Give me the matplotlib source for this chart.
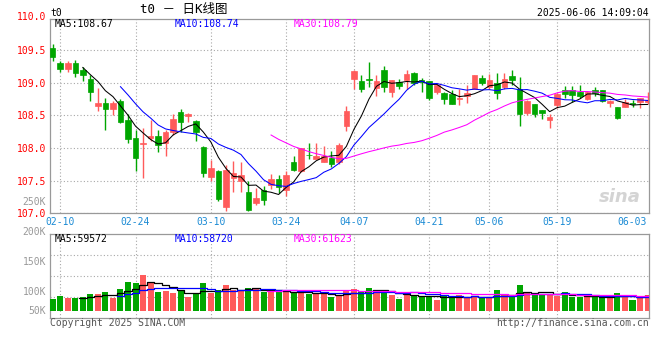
import numpy as np
import pandas as pd
import matplotlib
matplotlib.use("Agg")
import matplotlib.pyplot as plt

# ---------------- data ----------------
opens = [109.53, 109.30, 109.21, 109.30, 109.19, 109.06, 108.65, 108.69, 108.60, 108.72,
         108.43, 108.15, 108.06, 108.16, 108.18, 108.08, 108.24, 108.55, 108.49, 108.42,
         108.02, 107.56, 107.65, 107.10, 107.54, 107.50, 107.33, 107.16, 107.35, 107.43,
         107.53, 107.35, 107.78, 107.64, 107.90, 107.83, 107.79, 107.84, 107.78, 108.34,
         109.06, 109.03, 109.06, 108.92, 109.19, 108.85, 109.01, 109.04, 109.14, 109.04,
         109.03, 108.85, 108.84, 108.82, 108.75, 108.80, 108.91, 109.07, 108.94, 108.99,
         108.94, 109.10, 108.91, 108.53, 108.67, 108.58, 108.43, 108.66, 108.89, 108.89,
         108.85, 108.75, 108.89, 108.89, 108.69, 108.62, 108.63, 108.69, 108.71, 108.71]
highs = [109.59, 109.33, 109.33, 109.35, 109.24, 109.12, 108.92, 108.76, 108.72, 108.75,
         108.52, 108.28, 108.30, 108.43, 108.28, 108.28, 108.52, 108.60, 108.54, 108.43,
         108.03, 107.82, 107.66, 107.74, 107.80, 107.78, 107.50, 107.39, 107.42, 107.60,
         107.59, 107.64, 107.88, 108.00, 108.07, 108.07, 108.03, 107.95, 108.07, 108.65,
         109.19, 109.11, 109.31, 109.12, 109.26, 109.04, 109.06, 109.19, 109.17, 109.07,
         109.03, 109.00, 108.86, 108.89, 108.90, 108.96, 109.12, 109.12, 109.13, 109.15,
         109.15, 109.19, 109.09, 108.73, 108.68, 108.58, 108.52, 108.84, 108.95, 108.95,
         108.96, 108.87, 108.94, 108.89, 108.74, 108.62, 108.75, 108.73, 108.77, 108.86]
lows = [109.33, 109.17, 109.17, 109.09, 109.03, 108.72, 108.57, 108.28, 108.51, 108.38,
        108.07, 107.64, 107.54, 108.10, 107.94, 107.88, 108.20, 108.24, 108.39, 108.11,
        107.56, 107.50, 107.19, 107.03, 107.33, 107.33, 107.04, 107.13, 107.13, 107.37,
        107.31, 107.27, 107.65, 107.63, 107.83, 107.83, 107.78, 107.71, 107.76, 108.26,
        108.90, 108.86, 108.94, 108.80, 108.85, 108.78, 108.91, 108.91, 108.96, 108.86,
        108.74, 108.83, 108.68, 108.67, 108.66, 108.69, 108.90, 108.96, 108.90, 108.75,
        108.91, 108.97, 108.34, 108.51, 108.47, 108.44, 108.31, 108.61, 108.76, 108.71,
        108.76, 108.73, 108.80, 108.71, 108.62, 108.44, 108.62, 108.63, 108.61, 108.68]
closes = [109.40, 109.21, 109.30, 109.14, 109.11, 108.85, 108.69, 108.59, 108.69, 108.40,
          108.14, 107.85, 108.07, 108.19, 108.05, 108.24, 108.45, 108.39, 108.52, 108.24,
          107.62, 107.69, 107.22, 107.67, 107.62, 107.58, 107.05, 107.24, 107.21, 107.53,
          107.41, 107.59, 107.66, 108.00, 107.89, 107.88, 107.87, 107.75, 108.05, 108.57,
          109.18, 108.90, 109.04, 109.03, 108.94, 109.04, 108.95, 109.13, 108.99, 109.01,
          108.77, 108.97, 108.75, 108.67, 108.77, 108.84, 109.12, 108.99, 109.04, 108.84,
          109.06, 109.04, 108.52, 108.72, 108.52, 108.54, 108.48, 108.83, 108.83, 108.81,
          108.80, 108.86, 108.84, 108.72, 108.72, 108.46, 108.71, 108.67, 108.76, 108.73]
volumes = [48700, 61200, 52800, 52800, 57000, 69500, 69500, 77800, 52800, 90300,
           119400, 115200, 148500, 115200, 77800, 82000, 73600, 86100, 57000, 73600,
           115200, 73600, 86100, 106900, 86100, 86100, 94400, 90300, 77800, 77800,
           86100, 82000, 73600, 77800, 69500, 69500, 69500, 58200, 61200, 82000,
           90300, 77800, 94400, 86100, 82000, 65300, 48700, 65300, 65300, 61200,
           61200, 44500, 61200, 61200, 65300, 55300, 55300, 55300, 52800, 86100,
           65300, 59500, 106900, 73600, 69500, 69500, 65300, 61200, 77800, 57000,
           57000, 61200, 55300, 55300, 61200, 73600, 61200, 44500, 52800, 65300]

date_labels = ["02-10", "02-24", "03-10", "03-24", "04-07", "04-21", "05-06", "05-19", "06-03"]
date_index = [1, 11, 21, 31, 40, 50, 58, 67, 77]
price_ticks = [107.0, 107.5, 108.0, 108.5, 109.0, 109.5]
price_top_label = "110.0"
ma_price_text = ["MA5:108.67", "MA10:108.74", "MA30:108.79"]
ma_vol_text = ["MA5:59572", "MA10:58720", "MA30:61623"]
vol_tick_labels = ["250K", "200K", "150K", "100K", "50K"]
title_text = "t0 － 日K线图"
code_text = "t0"
time_text = "2025-06-06 14:09:04"
copyright_text = "Copyright 2025 SINA.COM"
url_text = "http://finance.sina.com.cn"

# ---------------- style / layout ----------------
W, H = 660, 360
RED = "#ff5b5b"
GREEN = "#00a600"
MA_COLORS = ["#000000", "#0000ff", "#ff00ff"]
GRID = "#a8a8a8"
SPINE = "#999999"
DATE_C = "#1a8ad4"
MONO = "DejaVu Sans Mono"
FS = 7.0
vol_label_pos = [250, 200, 150, 100, 67.8]   # positions on the label scale


def fx(px):
    return px / W


def fy(py):
    return 1 - py / H


def add_axes_px(left, top, right, bottom):
    return fig.add_axes([fx(left), fy(bottom), (right - left) / W, (bottom - top) / H])


fig = plt.figure(figsize=(W / 100, H / 100), dpi=100)
fig.patch.set_facecolor("white")

n = len(closes)
x = np.arange(n)
o = np.array(opens); c = np.array(closes); h = np.array(highs); l = np.array(lows)
up = c >= o
colors = np.where(up, RED, GREEN)

XMIN, XMAX = -0.292, 79.23

# ---------------- price panel ----------------
ax = add_axes_px(50.5, 19, 649.3, 213.3)
ax.set_xlim(XMIN, XMAX)
ax.set_ylim(107.0, 109.974)
ax.set_axisbelow(True)
for s in ax.spines.values():
    s.set_color(SPINE)
    s.set_linewidth(0.9)

ax.set_yticks(price_ticks)
ax.set_yticklabels([f"{v:.1f}" for v in price_ticks])
ax.tick_params(axis="y", length=0, pad=3.2, labelsize=FS, labelcolor="#ff0000")
ax.grid(axis="y", color=GRID, linestyle=(0, (1, 2)), linewidth=0.8)
ax.set_xticks(date_index)
ax.set_xticklabels(date_labels)
ax.tick_params(axis="x", length=0, pad=3.0, labelsize=FS, labelcolor=DATE_C)
for lab in ax.get_xticklabels() + ax.get_yticklabels():
    lab.set_fontfamily(MONO)
for d in date_index[:-1]:
    ax.axvline(d, color=GRID, linestyle=(0, (1, 2)), linewidth=0.8, zorder=0.5)

ax.text(-4.5 / 598.8, 110.0, price_top_label, transform=ax.get_yaxis_transform(),
        ha="right", va="center", fontsize=FS, color="#ff0000", family=MONO, clip_on=False)

# wicks
ax.vlines(x, l, h, colors=colors, linewidth=1.0, zorder=3)
# bodies
body_bottom = np.minimum(o, c)
body_h = np.maximum(np.abs(c - o), 0.004)
ax.bar(x, body_h, bottom=body_bottom, width=0.74, color=colors, edgecolor=colors,
       linewidth=0.5, zorder=4)

cs = pd.Series(closes)
for w, col in zip([5, 10, 30], MA_COLORS):
    ax.plot(x, cs.rolling(w).mean(), color=col, linewidth=0.75, zorder=5)

# sina watermark
ax.text(0.985, 0.04, "sina", transform=ax.transAxes, ha="right", va="bottom",
        fontsize=13, fontweight="bold", fontstyle="italic", color="#d4d4d4",
        family="DejaVu Sans", zorder=1)

# ---------------- volume panel ----------------
av = add_axes_px(50.5, 234.3, 649.3, 317.7)
av.set_xlim(XMIN, XMAX)
av.set_ylim(-29100, 317800)
av.set_axisbelow(True)
for s in av.spines.values():
    s.set_color(SPINE)
    s.set_linewidth(0.9)
av.set_xticks([])
av.set_yticks([])
for f in (0.25, 0.5, 0.75):
    av.plot([0, 1], [f, f], transform=av.transAxes, color=GRID,
            linestyle=(0, (1, 2)), linewidth=0.8, zorder=0.5)
for d in date_index[:-1]:
    av.axvline(d, color=GRID, linestyle=(0, (1, 2)), linewidth=0.8, zorder=0.5)

av.bar(x, volumes, width=0.8, color=colors, linewidth=0, zorder=3)
vs = pd.Series(volumes, dtype=float)
for w, col in zip([5, 10, 30], MA_COLORS):
    av.plot(x, vs.rolling(w).mean(), color=col, linewidth=0.9,
            drawstyle="steps-mid", zorder=4)

# volume axis labels (Sina's own label positions)
al = add_axes_px(50.5, 195, 649.3, 317.7)
al.set_ylim(55, 259.5)
al.set_xlim(0, 1)
al.patch.set_visible(False)
for s in al.spines.values():
    s.set_visible(False)
al.set_xticks([])
al.set_yticks(vol_label_pos)
al.set_yticklabels(vol_tick_labels)
al.tick_params(axis="y", length=0, pad=3.2, labelsize=FS, labelcolor="#999999")
for lab in al.get_yticklabels():
    lab.set_fontfamily(MONO)

# ---------------- texts ----------------
for txt, col, px in zip(ma_price_text, MA_COLORS, [54.3, 174.3, 294.0]):
    fig.text(fx(px), fy(24.2), txt, ha="left", va="center", fontsize=FS, color=col, family=MONO)
for txt, col, px in zip(ma_vol_text, MA_COLORS, [54.3, 174.3, 294.0]):
    fig.text(fx(px), fy(238.6), txt, ha="left", va="center", fontsize=FS, color=col, family=MONO)

fig.text(fx(50.7), fy(12.5), code_text, ha="left", va="center", fontsize=FS, color="black", family=MONO)
fig.text(fx(140), fy(9.5), title_text, ha="left", va="center", fontsize=9, color="black",
         family=[MONO, "Noto Sans CJK SC"])
fig.text(fx(648.5), fy(12.5), time_text, ha="right", va="center", fontsize=FS, color="black", family=MONO)
fig.text(fx(50.0), fy(323.5), copyright_text, ha="left", va="center", fontsize=FS, color="#555555", family=MONO)
fig.text(fx(649.3), fy(323.5), url_text, ha="right", va="center", fontsize=FS, color="#555555", family=MONO)

fig.savefig("out.png", dpi=100, facecolor="white")
